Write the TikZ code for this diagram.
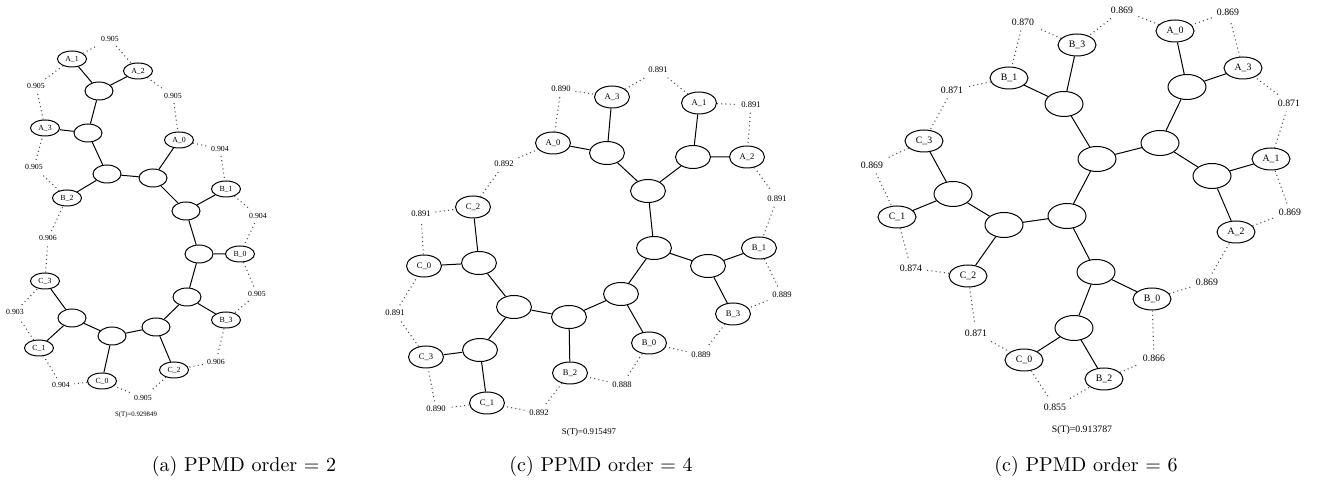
\documentclass[tikz,border=0pt]{standalone}
\usepackage{fontspec}
\usetikzlibrary{shapes.geometric}
\newfontfamily\gvfont{Liberation Serif}
\begin{document}
\begin{tikzpicture}[x=0.5pt,y=-0.5pt,
  tre/.style={line width=0.5pt},
  dots/.style={draw=black!70, line width=0.55pt, dash pattern=on 0.5pt off 1.6pt},
  lfa/.style={ellipse, draw, line width=0.5pt, minimum width=14.5pt, minimum height=8pt, inner sep=0pt, font=\gvfont\fontsize{3.9}{4}\selectfont},
  ina/.style={ellipse, draw, line width=0.5pt, minimum width=14pt, minimum height=9pt, inner sep=0pt},
  wa/.style={font=\gvfont\fontsize{3.9}{4}\selectfont, inner sep=2pt},
  lfb/.style={ellipse, draw, line width=0.5pt, minimum width=17.5pt, minimum height=11pt, inner sep=0pt, font=\gvfont\fontsize{4.3}{5}\selectfont},
  inb/.style={ellipse, draw, line width=0.5pt, minimum width=17.5pt, minimum height=11.5pt, inner sep=0pt},
  wb/.style={font=\gvfont\fontsize{4.3}{5}\selectfont, inner sep=2.2pt},
  lfc/.style={ellipse, draw, line width=0.5pt, minimum width=19pt, minimum height=11pt, inner sep=0pt, font=\gvfont\fontsize{4.9}{6}\selectfont},
  inc/.style={ellipse, draw, line width=0.5pt, minimum width=19pt, minimum height=12.5pt, inner sep=0pt},
  wc/.style={font=\gvfont\fontsize{4.9}{6}\selectfont, inner sep=2.4pt},
  capt/.style={font=\fontsize{10}{12}\selectfont, inner sep=0pt}
]
\useasboundingbox (0,0) rectangle (1319,480);
% ================= panel (a) =================
\node[lfa] (aA1) at (72,59) {A\_1};
\node[lfa] (aA2) at (138,71) {A\_2};
\node[ina] (a1) at (99,91) {};
\node[lfa] (aA3) at (45,128) {A\_3};
\node[ina] (a2) at (88,133) {};
\node[lfa] (aA0) at (179,140) {A\_0};
\node[ina] (a3) at (107,174) {};
\node[ina] (a4) at (153,178) {};
\node[lfa] (aB1) at (226,189) {B\_1};
\node[lfa] (aB2) at (67,198) {B\_2};
\node[ina] (a5) at (186,211) {};
\node[ina] (a6) at (199,254) {};
\node[lfa] (aB0) at (240,254) {B\_0};
\node[lfa] (aC3) at (45,281) {C\_3};
\node[ina] (a7) at (187,297) {};
\node[ina] (a8) at (72,318) {};
\node[lfa] (aB3) at (226,320) {B\_3};
\node[ina] (a9) at (156,327) {};
\node[ina] (a10) at (112,336) {};
\node[lfa] (aC1) at (39,348) {C\_1};
\node[lfa] (aC2) at (174,370) {C\_2};
\node[lfa] (aC0) at (102,381) {C\_0};
\draw[tre] (aA1)--(a1) (aA2)--(a1) (a1)--(a2) (aA3)--(a2) (a2)--(a3) (aB2)--(a3)
  (a3)--(a4) (a4)--(aA0) (a4)--(a5) (a5)--(aB1) (a5)--(a6) (a6)--(aB0) (a6)--(a7)
  (a7)--(aB3) (a7)--(a9) (a9)--(aC2) (a9)--(a10) (a10)--(aC0) (a10)--(a8)
  (a8)--(aC3) (a8)--(aC1);
\node[wa] (wa1) at (110,39) {0.905};
\node[wa] (wa2) at (173,96) {0.905};
\node[wa] (wa3) at (220,149) {0.904};
\node[wa] (wa4) at (258,216) {0.904};
\node[wa] (wa5) at (257,294) {0.905};
\node[wa] (wa6) at (216,362) {0.906};
\node[wa] (wa7) at (143,398) {0.905};
\node[wa] (wa8) at (61,385) {0.904};
\node[wa] (wa9) at (15,312) {0.903};
\node[wa] (wa10) at (48,238) {0.906};
\node[wa] (wa11) at (34,167) {0.905};
\node[wa] (wa12) at (36,86) {0.905};
\draw[dots] (aA1)--(wa1)--(aA2);
\draw[dots] (aA2)--(wa2)--(aA0);
\draw[dots] (aA0)--(wa3)--(aB1);
\draw[dots] (aB1)--(wa4)--(aB0);
\draw[dots] (aB0)--(wa5)--(aB3);
\draw[dots] (aB3)--(wa6)--(aC2);
\draw[dots] (aC2)--(wa7)--(aC0);
\draw[dots] (aC0)--(wa8)--(aC1);
\draw[dots] (aC1)--(wa9)--(aC3);
\draw[dots] (aC3)--(wa10)--(aB2);
\draw[dots] (aB2)--(wa11)--(aA3);
\draw[dots] (aA3)--(wa12)--(aA1);
\node[font=\gvfont\fontsize{3.4}{4}\selectfont] (sa) at (136,415) {S(T)=0.929849};
\node[capt] (capa) at (244,467) {(a) PPMD order $=$ 2};
% ================= panel (b) =================
\node[lfb] (bA3) at (612,97) {A\_3};
\node[lfb] (bA1) at (699,103) {A\_1};
\node[lfb] (bA0) at (553,143) {A\_0};
\node[inb] (b1) at (607,153) {};
\node[inb] (b2) at (693,157) {};
\node[lfb] (bA2) at (747,157) {A\_2};
\node[inb] (b3) at (648,191) {};
\node[lfb] (bC2) at (473,207) {C\_2};
\node[inb] (b4) at (654,248) {};
\node[lfb] (bB1) at (759,248) {B\_1};
\node[lfb] (bC0) at (424,266) {C\_0};
\node[inb] (b5) at (479,263) {};
\node[inb] (b6) at (708,266) {};
\node[inb] (b7) at (621,294) {};
\node[inb] (b8) at (514,307) {};
\node[inb] (b9) at (569,317) {};
\node[lfb] (bB3) at (733,314) {B\_3};
\node[lfb] (bB0) at (649,343) {B\_0};
\node[inb] (b10) at (480,350) {};
\node[lfb] (bC3) at (426,357) {C\_3};
\node[lfb] (bB2) at (570,373) {B\_2};
\node[lfb] (bC1) at (487,403) {C\_1};
\draw[tre] (bA3)--(b1) (bA0)--(b1) (b1)--(b3) (bA1)--(b2) (bA2)--(b2) (b2)--(b3)
  (b3)--(b4) (b4)--(b6) (b6)--(bB1) (b6)--(bB3) (b4)--(b7) (b7)--(bB0) (b7)--(b9)
  (b9)--(bB2) (b9)--(b8) (b8)--(b5) (b5)--(bC0) (b5)--(bC2) (b8)--(b10)
  (b10)--(bC3) (b10)--(bC1);
\node[wb] (wb1) at (561,89) {0.890};
\node[wb] (wb2) at (658,70) {0.891};
\node[wb] (wb3) at (751,105) {0.891};
\node[wb] (wb4) at (777,199) {0.891};
\node[wb] (wb5) at (782,295) {0.889};
\node[wb] (wb6) at (701,355) {0.889};
\node[wb] (wb7) at (622,385) {0.888};
\node[wb] (wb8) at (539,413) {0.892};
\node[wb] (wb9) at (436,409) {0.890};
\node[wb] (wb10) at (395,313) {0.891};
\node[wb] (wb11) at (421,214) {0.891};
\node[wb] (wb12) at (504,164) {0.892};
\draw[dots] (bA0)--(wb1)--(bA3);
\draw[dots] (bA3)--(wb2)--(bA1);
\draw[dots] (bA1)--(wb3)--(bA2);
\draw[dots] (bA2)--(wb4)--(bB1);
\draw[dots] (bB1)--(wb5)--(bB3);
\draw[dots] (bB3)--(wb6)--(bB0);
\draw[dots] (bB0)--(wb7)--(bB2);
\draw[dots] (bB2)--(wb8)--(bC1);
\draw[dots] (bC1)--(wb9)--(bC3);
\draw[dots] (bC3)--(wb10)--(bC0);
\draw[dots] (bC0)--(wb11)--(bC2);
\draw[dots] (bC2)--(wb12)--(bA0);
\node[font=\gvfont\fontsize{4.4}{5}\selectfont] (sb) at (589,432) {S(T)=0.915497};
\node[capt] (capb) at (601,467) {(c) PPMD order $=$ 4};
% ================= panel (c) =================
\node[lfc] (cA0) at (1175,31) {A\_0};
\node[lfc] (cB3) at (1077,45) {B\_3};
\node[lfc] (cA3) at (1243,68) {A\_3};
\node[lfc] (cB1) at (1009,78) {B\_1};
\node[inc] (c1) at (1187,87) {};
\node[inc] (c2) at (1064,104) {};
\node[lfc] (cC3) at (924,141) {C\_3};
\node[inc] (c3) at (1160,143) {};
\node[inc] (c4) at (1097,159) {};
\node[lfc] (cA1) at (1271,159) {A\_1};
\node[inc] (c5) at (1212,176) {};
\node[inc] (c6) at (953,194) {};
\node[inc] (c7) at (1067,216) {};
\node[lfc] (cC1) at (897,217) {C\_1};
\node[inc] (c8) at (1004,225) {};
\node[lfc] (cA2) at (1236,232) {A\_2};
\node[lfc] (cC2) at (968,276) {C\_2};
\node[inc] (c9) at (1096,272) {};
\node[lfc] (cB0) at (1152,299) {B\_0};
\node[inc] (c10) at (1074,328) {};
\node[lfc] (cC0) at (1024,360) {C\_0};
\node[lfc] (cB2) at (1104,379) {B\_2};
\draw[tre] (cA0)--(c1) (cA3)--(c1) (c1)--(c3) (c3)--(c4) (c3)--(c5) (c5)--(cA1)
  (c5)--(cA2) (c4)--(c2) (c2)--(cB1) (c2)--(cB3) (c4)--(c7) (c7)--(c8) (c8)--(c6)
  (c6)--(cC3) (c6)--(cC1) (c8)--(cC2) (c7)--(c9) (c9)--(cB0) (c9)--(c10)
  (c10)--(cC0) (c10)--(cB2);
\node[wc] (wc1) at (1122,10) {0.869};
\node[wc] (wc2) at (1023,22) {0.870};
\node[wc] (wc3) at (952,90) {0.871};
\node[wc] (wc4) at (872,165) {0.869};
\node[wc] (wc5) at (911,268) {0.874};
\node[wc] (wc6) at (976,333) {0.871};
\node[wc] (wc7) at (1055,407) {0.855};
\node[wc] (wc8) at (1154,358) {0.866};
\node[wc] (wc9) at (1207,282) {0.869};
\node[wc] (wc10) at (1290,212) {0.869};
\node[wc] (wc11) at (1289,103) {0.871};
\node[wc] (wc12) at (1228,12) {0.869};
\draw[dots] (cA0)--(wc1)--(cB3);
\draw[dots] (cB3)--(wc2)--(cB1);
\draw[dots] (cB1)--(wc3)--(cC3);
\draw[dots] (cC3)--(wc4)--(cC1);
\draw[dots] (cC1)--(wc5)--(cC2);
\draw[dots] (cC2)--(wc6)--(cC0);
\draw[dots] (cC0)--(wc7)--(cB2);
\draw[dots] (cB2)--(wc8)--(cB0);
\draw[dots] (cB0)--(wc9)--(cA2);
\draw[dots] (cA2)--(wc10)--(cA1);
\draw[dots] (cA1)--(wc11)--(cA3);
\draw[dots] (cA3)--(wc12)--(cA0);
\node[font=\gvfont\fontsize{4.9}{6}\selectfont] (sc) at (1082,430) {S(T)=0.913787};
\node[capt] (capc) at (1086,467) {(c) PPMD order $=$ 6};
\end{tikzpicture}
\end{document}
